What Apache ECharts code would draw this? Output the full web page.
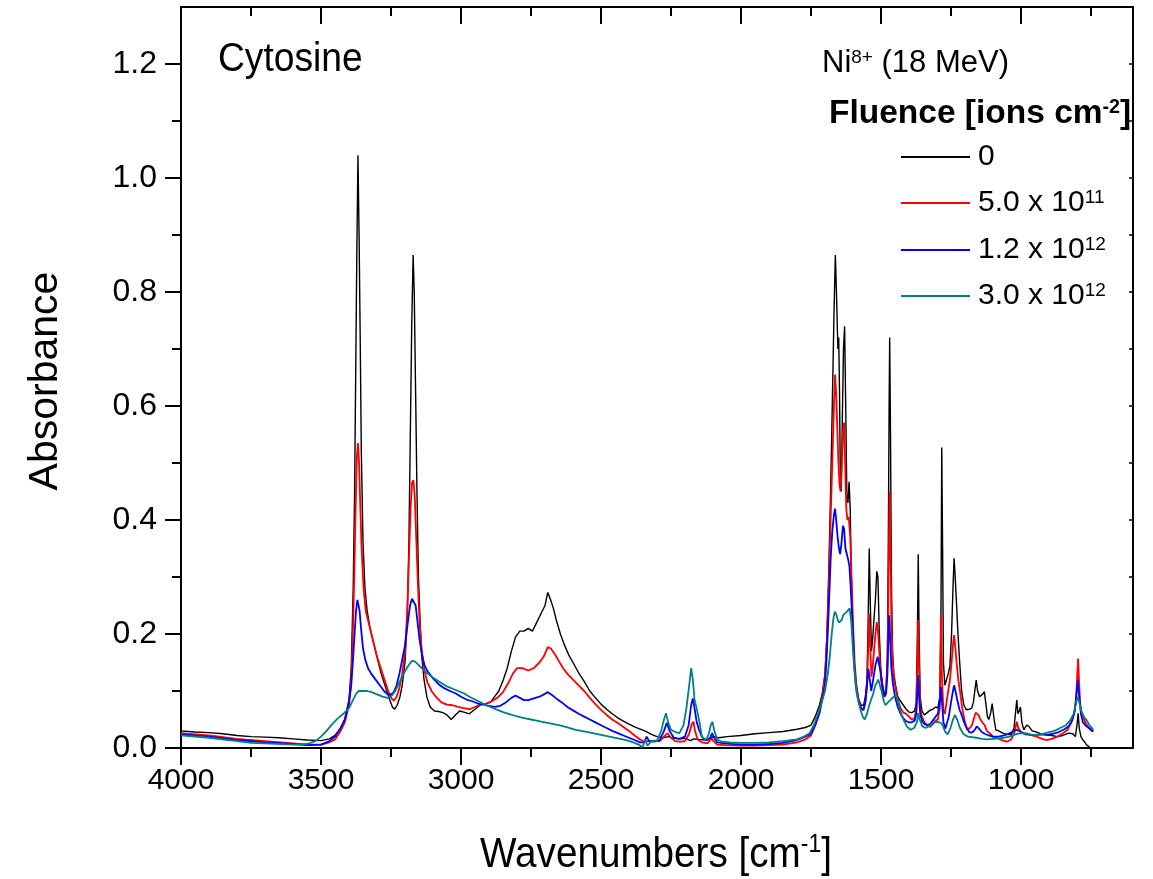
<!DOCTYPE html>
<html>
<head>
<meta charset="utf-8">
<title>Cytosine – IR absorbance under Ni8+ irradiation</title>
<script src="https://cdn.jsdelivr.net/npm/echarts@6.0.0/dist/echarts.min.js"></script>
<style>
  html, body { margin: 0; padding: 0; background: #ffffff; }
  #chart { width: 1153px; height: 879px; }
</style>
</head>
<body>
<div id="chart"></div>
<script>
// ---- Spectra: [wavenumber (cm-1), absorbance] ----
const fluence0 = [
  [4000,0.030],[3950,0.028],[3900,0.027],[3850,0.025],[3800,0.022],[3750,0.020],[3700,0.019],[3650,0.018],
  [3600,0.016],[3550,0.014],[3500,0.013],[3470,0.016],[3450,0.022],[3430,0.035],[3415,0.050],[3400,0.085],
  [3392,0.14],[3385,0.28],[3380,0.45],[3376,0.66],[3372,0.87],[3368,1.04],[3364,0.90],[3360,0.72],
  [3356,0.52],[3350,0.36],[3343,0.28],[3335,0.24],[3325,0.21],[3315,0.19],[3305,0.17],[3295,0.15],
  [3285,0.13],[3275,0.115],[3265,0.10],[3255,0.085],[3245,0.072],[3237,0.068],[3228,0.075],[3218,0.09],
  [3210,0.11],[3200,0.15],[3192,0.23],[3186,0.36],[3181,0.55],[3176,0.74],[3171,0.865],[3167,0.80],
  [3162,0.62],[3157,0.44],[3152,0.30],[3146,0.22],[3140,0.16],[3132,0.12],[3122,0.09],[3110,0.072],
  [3095,0.065],[3080,0.064],[3065,0.062],[3050,0.058],[3035,0.050],[3020,0.058],[3005,0.065],[2990,0.063],
  [2970,0.060],[2950,0.068],[2930,0.076],[2910,0.078],[2895,0.080],[2880,0.090],[2865,0.10],[2850,0.118],
  [2835,0.14],[2820,0.17],[2805,0.195],[2790,0.205],[2775,0.205],[2760,0.21],[2745,0.205],[2730,0.22],
  [2715,0.235],[2700,0.25],[2690,0.273],[2680,0.26],[2670,0.245],[2660,0.225],[2645,0.20],[2630,0.18],
  [2615,0.163],[2600,0.15],[2580,0.132],[2560,0.117],[2540,0.10],[2520,0.088],[2500,0.077],[2480,0.068],
  [2460,0.060],[2440,0.053],[2420,0.047],[2400,0.042],[2380,0.037],[2360,0.033],[2340,0.029],[2320,0.024],
  [2300,0.020],[2280,0.018],[2260,0.020],[2240,0.017],[2220,0.016],[2200,0.017],[2180,0.013],[2170,0.016],
  [2150,0.015],[2120,0.014],[2100,0.020],[2080,0.018],[2050,0.020],[2000,0.022],[1950,0.025],[1900,0.027],
  [1850,0.029],[1800,0.033],[1770,0.036],[1750,0.040],[1735,0.055],[1720,0.075],[1710,0.095],[1700,0.13],
  [1693,0.20],[1686,0.32],[1680,0.45],[1674,0.60],[1668,0.76],[1663,0.865],[1658,0.78],[1654,0.70],
  [1651,0.72],[1648,0.62],[1645,0.46],[1642,0.45],[1638,0.58],[1634,0.70],[1630,0.74],[1626,0.60],
  [1622,0.44],[1618,0.43],[1614,0.467],[1610,0.42],[1606,0.30],[1600,0.20],[1595,0.14],[1588,0.11],
  [1580,0.085],[1570,0.075],[1562,0.075],[1556,0.09],[1550,0.12],[1546,0.22],[1542,0.35],[1538,0.25],
  [1534,0.17],[1530,0.19],[1526,0.22],[1520,0.26],[1515,0.31],[1511,0.30],[1506,0.20],[1500,0.13],
  [1494,0.11],[1488,0.095],[1482,0.10],[1477,0.16],[1474,0.35],[1471,0.60],[1469,0.72],[1466,0.55],
  [1463,0.30],[1459,0.17],[1454,0.13],[1448,0.11],[1440,0.09],[1430,0.082],[1420,0.075],[1410,0.068],
  [1400,0.063],[1390,0.062],[1380,0.065],[1374,0.08],[1370,0.20],[1367,0.34],[1364,0.20],[1360,0.09],
  [1354,0.065],[1345,0.058],[1335,0.062],[1325,0.066],[1315,0.068],[1305,0.072],[1297,0.070],[1290,0.09],
  [1286,0.22],[1283,0.527],[1280,0.35],[1277,0.15],[1272,0.11],[1266,0.12],[1260,0.13],[1254,0.143],
  [1248,0.20],[1243,0.28],[1239,0.333],[1235,0.30],[1230,0.25],[1225,0.20],[1219,0.15],[1212,0.10],
  [1204,0.075],[1195,0.067],[1185,0.068],[1176,0.070],[1170,0.08],[1165,0.10],[1160,0.119],[1155,0.10],
  [1148,0.09],[1142,0.088],[1136,0.095],[1131,0.099],[1126,0.08],[1120,0.055],[1115,0.050],[1108,0.062],
  [1103,0.078],[1100,0.081],[1096,0.050],[1090,0.032],[1080,0.030],[1065,0.026],[1050,0.024],[1035,0.023],
  [1025,0.035],[1018,0.07],[1015,0.084],[1011,0.06],[1006,0.065],[1002,0.072],[997,0.045],[990,0.032],
  [980,0.040],[972,0.038],[960,0.030],[945,0.028],[930,0.025],[910,0.023],[890,0.022],[870,0.020],
  [850,0.022],[830,0.026],[815,0.025],[806,0.020],[800,0.040],[796,0.061],[792,0.035],[786,0.020],
  [780,0.015],[772,0.010],[765,0.005],[758,0.004],[751,0.000]
];

const fluence5e11 = [
  [4000,0.026],[3900,0.022],[3800,0.016],[3700,0.012],[3600,0.008],[3550,0.006],[3500,0.006],[3470,0.010],
  [3450,0.015],[3430,0.030],[3415,0.045],[3400,0.075],[3392,0.12],[3385,0.22],[3380,0.33],[3376,0.43],
  [3372,0.51],[3368,0.535],[3364,0.50],[3360,0.43],[3355,0.35],[3348,0.28],[3340,0.24],[3330,0.22],
  [3320,0.20],[3310,0.18],[3300,0.16],[3290,0.145],[3280,0.13],[3270,0.115],[3260,0.10],[3250,0.088],
  [3240,0.083],[3230,0.09],[3220,0.105],[3210,0.13],[3200,0.17],[3192,0.24],[3186,0.33],[3180,0.42],
  [3175,0.465],[3170,0.47],[3165,0.44],[3160,0.37],[3154,0.29],[3148,0.22],[3140,0.17],[3130,0.135],
  [3120,0.115],[3105,0.10],[3090,0.09],[3070,0.08],[3050,0.076],[3030,0.075],[3010,0.072],[2990,0.070],
  [2970,0.068],[2950,0.072],[2930,0.076],[2910,0.078],[2890,0.082],[2870,0.088],[2850,0.098],[2830,0.115],
  [2815,0.13],[2800,0.14],[2780,0.14],[2760,0.136],[2740,0.14],[2720,0.15],[2705,0.16],[2690,0.177],
  [2680,0.175],[2665,0.165],[2650,0.152],[2635,0.14],[2620,0.13],[2600,0.12],[2580,0.11],[2560,0.10],
  [2540,0.088],[2520,0.077],[2500,0.067],[2480,0.058],[2460,0.050],[2440,0.044],[2420,0.037],[2400,0.030],
  [2380,0.022],[2360,0.015],[2345,0.011],[2330,0.012],[2310,0.013],[2290,0.012],[2275,0.020],[2262,0.026],
  [2250,0.018],[2235,0.012],[2220,0.011],[2200,0.012],[2185,0.025],[2176,0.042],[2170,0.046],[2164,0.030],
  [2155,0.015],[2140,0.010],[2120,0.008],[2105,0.017],[2098,0.012],[2085,0.006],[2060,0.005],[2000,0.004],
  [1950,0.004],[1900,0.005],[1850,0.006],[1800,0.010],[1770,0.015],[1750,0.022],[1735,0.040],[1720,0.065],
  [1710,0.09],[1700,0.125],[1693,0.19],[1686,0.29],[1680,0.40],[1674,0.50],[1668,0.60],[1664,0.655],
  [1660,0.62],[1656,0.56],[1652,0.50],[1648,0.46],[1644,0.45],[1640,0.50],[1636,0.55],[1632,0.571],
  [1628,0.50],[1624,0.42],[1620,0.40],[1615,0.405],[1610,0.37],[1605,0.30],[1600,0.22],[1594,0.15],
  [1588,0.11],[1580,0.085],[1570,0.070],[1562,0.068],[1556,0.08],[1550,0.11],[1546,0.17],[1543,0.236],
  [1539,0.18],[1534,0.125],[1530,0.14],[1525,0.17],[1520,0.20],[1515,0.221],[1510,0.20],[1505,0.16],
  [1500,0.12],[1494,0.10],[1488,0.09],[1482,0.10],[1477,0.15],[1474,0.25],[1471,0.38],[1469,0.45],
  [1466,0.35],[1463,0.22],[1459,0.16],[1454,0.12],[1448,0.105],[1440,0.085],[1430,0.070],[1420,0.062],
  [1410,0.060],[1400,0.055],[1390,0.050],[1380,0.052],[1374,0.07],[1370,0.15],[1367,0.225],[1364,0.14],
  [1360,0.07],[1354,0.055],[1345,0.045],[1335,0.040],[1325,0.037],[1315,0.042],[1305,0.048],[1297,0.050],
  [1290,0.07],[1286,0.233],[1282,0.12],[1277,0.065],[1272,0.06],[1266,0.08],[1260,0.10],[1254,0.119],
  [1248,0.15],[1243,0.18],[1239,0.198],[1235,0.18],[1230,0.15],[1224,0.12],[1218,0.10],[1210,0.07],
  [1200,0.045],[1192,0.032],[1183,0.035],[1175,0.040],[1168,0.052],[1162,0.062],[1158,0.064],[1152,0.058],
  [1145,0.050],[1138,0.045],[1130,0.040],[1122,0.030],[1110,0.025],[1100,0.020],[1087,0.018],[1070,0.014],
  [1051,0.011],[1035,0.015],[1025,0.025],[1018,0.040],[1015,0.046],[1010,0.035],[1000,0.028],[990,0.026],
  [975,0.025],[960,0.022],[944,0.020],[925,0.016],[908,0.014],[890,0.016],[870,0.020],[850,0.026],
  [834,0.032],[820,0.045],[810,0.060],[803,0.085],[799,0.13],[796,0.157],[793,0.12],[789,0.08],
  [783,0.060],[775,0.050],[765,0.040],[755,0.035],[748,0.030],[742,0.029]
];

const fluence1_2e12 = [
  [4000,0.024],[3900,0.020],[3800,0.014],[3700,0.010],[3600,0.007],[3550,0.005],[3500,0.006],[3470,0.012],
  [3450,0.020],[3430,0.035],[3415,0.050],[3400,0.080],[3392,0.11],[3385,0.16],[3380,0.20],[3375,0.24],
  [3370,0.26],[3366,0.262],[3362,0.24],[3357,0.21],[3350,0.175],[3342,0.155],[3332,0.14],[3320,0.13],
  [3305,0.12],[3290,0.11],[3275,0.10],[3262,0.094],[3250,0.094],[3240,0.098],[3230,0.11],[3220,0.13],
  [3210,0.155],[3200,0.18],[3190,0.22],[3182,0.25],[3175,0.262],[3168,0.265],[3162,0.25],[3155,0.22],
  [3148,0.19],[3140,0.165],[3130,0.145],[3120,0.135],[3100,0.122],[3080,0.112],[3060,0.105],[3040,0.100],
  [3020,0.096],[3000,0.090],[2980,0.085],[2960,0.082],[2940,0.078],[2920,0.076],[2900,0.074],[2880,0.072],
  [2860,0.074],[2840,0.080],[2820,0.088],[2805,0.092],[2790,0.088],[2775,0.084],[2760,0.084],[2740,0.087],
  [2720,0.090],[2700,0.095],[2690,0.098],[2675,0.093],[2660,0.087],[2640,0.080],[2620,0.072],[2600,0.066],
  [2580,0.060],[2560,0.055],[2540,0.050],[2520,0.045],[2500,0.040],[2480,0.035],[2460,0.030],[2440,0.026],
  [2420,0.022],[2400,0.018],[2380,0.014],[2360,0.010],[2345,0.010],[2337,0.020],[2328,0.012],[2310,0.011],
  [2290,0.014],[2275,0.030],[2265,0.044],[2255,0.030],[2240,0.018],[2220,0.016],[2200,0.020],[2187,0.040],
  [2178,0.075],[2172,0.087],[2166,0.070],[2158,0.045],[2150,0.032],[2140,0.020],[2125,0.013],[2110,0.018],
  [2103,0.026],[2096,0.018],[2085,0.010],[2060,0.008],[2000,0.006],[1950,0.006],[1900,0.007],[1850,0.009],
  [1800,0.014],[1770,0.020],[1750,0.025],[1735,0.040],[1720,0.060],[1710,0.085],[1700,0.11],[1693,0.17],
  [1686,0.25],[1680,0.33],[1674,0.38],[1668,0.41],[1664,0.42],[1660,0.40],[1655,0.37],[1650,0.35],
  [1646,0.34],[1641,0.36],[1636,0.39],[1632,0.385],[1627,0.35],[1622,0.34],[1617,0.33],[1613,0.32],
  [1608,0.28],[1602,0.22],[1596,0.15],[1590,0.11],[1582,0.085],[1572,0.070],[1563,0.066],[1556,0.08],
  [1550,0.11],[1545,0.139],[1540,0.12],[1535,0.10],[1528,0.12],[1520,0.145],[1512,0.16],[1506,0.162],
  [1500,0.13],[1494,0.105],[1488,0.09],[1482,0.095],[1477,0.13],[1474,0.19],[1471,0.233],[1467,0.19],
  [1463,0.14],[1458,0.115],[1450,0.09],[1440,0.072],[1430,0.060],[1420,0.052],[1410,0.047],[1400,0.045],
  [1390,0.045],[1380,0.048],[1374,0.06],[1370,0.10],[1367,0.128],[1364,0.09],[1360,0.06],[1354,0.048],
  [1345,0.042],[1335,0.040],[1325,0.042],[1315,0.048],[1305,0.055],[1297,0.060],[1290,0.08],[1286,0.107],
  [1282,0.08],[1277,0.045],[1270,0.034],[1264,0.035],[1258,0.055],[1250,0.08],[1243,0.10],[1239,0.11],
  [1234,0.10],[1228,0.085],[1220,0.068],[1212,0.058],[1203,0.045],[1194,0.035],[1185,0.028],[1175,0.027],
  [1165,0.032],[1158,0.038],[1150,0.034],[1140,0.028],[1130,0.025],[1115,0.022],[1100,0.020],[1080,0.020],
  [1060,0.022],[1040,0.026],[1025,0.030],[1015,0.032],[1000,0.028],[985,0.024],[965,0.023],[945,0.023],
  [925,0.024],[905,0.023],[885,0.025],[865,0.028],[845,0.033],[830,0.038],[818,0.048],[808,0.065],
  [802,0.095],[797,0.119],[792,0.09],[786,0.06],[779,0.045],[770,0.040],[760,0.036],[750,0.032],[742,0.029]
];

const fluence3e12 = [
  [4000,0.022],[3900,0.018],[3800,0.012],[3750,0.009],[3700,0.008],[3600,0.006],[3550,0.007],[3520,0.012],
  [3500,0.020],[3480,0.030],[3460,0.042],[3440,0.052],[3420,0.060],[3400,0.070],[3385,0.085],[3375,0.095],
  [3365,0.100],[3350,0.100],[3335,0.100],[3320,0.098],[3300,0.094],[3280,0.090],[3262,0.088],[3250,0.090],
  [3235,0.100],[3220,0.115],[3205,0.130],[3190,0.143],[3175,0.153],[3165,0.152],[3150,0.145],[3130,0.135],
  [3110,0.127],[3090,0.120],[3070,0.114],[3050,0.108],[3030,0.104],[3010,0.100],[2990,0.096],[2970,0.090],
  [2950,0.085],[2930,0.080],[2910,0.075],[2890,0.071],[2870,0.067],[2850,0.063],[2830,0.060],[2810,0.057],
  [2790,0.054],[2770,0.052],[2750,0.050],[2730,0.048],[2710,0.046],[2690,0.044],[2670,0.042],[2650,0.040],
  [2620,0.036],[2590,0.032],[2560,0.029],[2530,0.026],[2500,0.023],[2470,0.020],[2440,0.017],[2410,0.014],
  [2385,0.010],[2365,0.006],[2352,0.001],[2342,0.015],[2334,0.004],[2320,0.012],[2300,0.013],[2285,0.030],
  [2275,0.050],[2268,0.061],[2260,0.045],[2250,0.032],[2235,0.028],[2220,0.026],[2205,0.040],[2195,0.070],
  [2185,0.110],[2178,0.140],[2172,0.120],[2166,0.085],[2160,0.073],[2155,0.076],[2150,0.050],[2140,0.020],
  [2125,0.014],[2115,0.025],[2108,0.040],[2102,0.046],[2095,0.030],[2085,0.015],[2070,0.011],[2040,0.010],
  [2000,0.009],[1950,0.009],[1900,0.010],[1850,0.012],[1800,0.015],[1775,0.020],[1755,0.026],[1740,0.040],
  [1725,0.060],[1712,0.080],[1700,0.100],[1690,0.130],[1683,0.160],[1676,0.200],[1670,0.227],[1665,0.239],
  [1660,0.235],[1655,0.225],[1650,0.220],[1645,0.218],[1640,0.225],[1635,0.233],[1628,0.235],[1620,0.240],
  [1612,0.245],[1606,0.220],[1600,0.170],[1594,0.130],[1588,0.100],[1580,0.080],[1572,0.065],[1565,0.055],
  [1558,0.050],[1550,0.060],[1542,0.075],[1535,0.085],[1528,0.095],[1520,0.110],[1510,0.120],[1504,0.121],
  [1498,0.100],[1490,0.082],[1484,0.075],[1475,0.080],[1465,0.085],[1455,0.090],[1445,0.091],[1438,0.080],
  [1428,0.060],[1418,0.048],[1408,0.038],[1395,0.032],[1382,0.035],[1372,0.045],[1367,0.061],[1362,0.050],
  [1352,0.038],[1340,0.035],[1325,0.040],[1310,0.045],[1300,0.046],[1290,0.045],[1282,0.042],[1270,0.028],
  [1262,0.024],[1252,0.035],[1243,0.050],[1236,0.058],[1228,0.050],[1218,0.035],[1205,0.024],[1190,0.020],
  [1175,0.019],[1160,0.018],[1140,0.016],[1120,0.015],[1100,0.016],[1080,0.017],[1060,0.018],[1040,0.020],
  [1020,0.024],[1000,0.026],[980,0.025],[960,0.023],[940,0.023],[920,0.025],[900,0.028],[880,0.030],
  [860,0.035],[840,0.040],[825,0.048],[812,0.060],[803,0.080],[797,0.090],[792,0.080],[785,0.065],
  [775,0.055],[765,0.048],[755,0.040],[745,0.034],[742,0.032]
];

// ---- Series names, legend labels, colours ----
const seriesNames = ['0', '5.0e11', '1.2e12', '3.0e12'];
const legendLabels = ['0', '5.0 x 10{s|11}', '1.2 x 10{s|12}', '3.0 x 10{s|12}'];
const seriesColors = ['#000000', '#ff0000', '#0000ff', '#008080'];
const seriesData = [fluence0, fluence5e11, fluence1_2e12, fluence3e12];

// ---- Axis ticks ----
const xMajorTicks = [1000, 1500, 2000, 2500, 3000, 3500, 4000];
const xMinorTicks = [750, 1250, 1750, 2250, 2750, 3250, 3750];
const yMajorTicks = [0, 0.2, 0.4, 0.6, 0.8, 1.0, 1.2];
const yMinorTicks = [0.1, 0.3, 0.5, 0.7, 0.9, 1.1];
const yRightTicks = [0.1, 0.2, 0.3, 0.4, 0.5, 0.6, 0.7, 0.8, 0.9, 1.0, 1.1, 1.2];

const X_MIN = 600, X_MAX = 4000, Y_MIN = 0, Y_MAX = 1.3;
const FONT = '"Liberation Sans", Arial, Helvetica, sans-serif';
const AXIS_COLOR = '#000000';

const chart = echarts.init(document.getElementById('chart'), null, { renderer: 'canvas' });

function xAxisDef(position, ticks, len, inside, showLine, showLabel) {
  return {
    type: 'value', position: position, inverse: true, min: X_MIN, max: X_MAX,
    axisLine: { show: showLine, onZero: false, lineStyle: { color: AXIS_COLOR, width: 2 } },
    axisTick: { show: true, inside: inside, length: len, customValues: ticks,
                lineStyle: { color: AXIS_COLOR, width: 2 } },
    axisLabel: showLabel ? { show: true, customValues: ticks, margin: 18, color: '#000',
                fontFamily: FONT, fontSize: 30, formatter: v => String(Math.round(v)) } : { show: false },
    splitLine: { show: false }
  };
}

function yAxisDef(position, ticks, len, inside, showLine, showLabel, tickWidth) {
  return {
    type: 'value', position: position, min: Y_MIN, max: Y_MAX,
    axisLine: { show: showLine, onZero: false, lineStyle: { color: AXIS_COLOR, width: 2 } },
    axisTick: { show: true, inside: inside, length: len, customValues: ticks,
                lineStyle: { color: AXIS_COLOR, width: tickWidth } },
    axisLabel: showLabel ? { show: true, customValues: ticks, margin: 24, color: '#000',
                fontFamily: FONT, fontSize: 32, formatter: v => v.toFixed(1) } : { show: false },
    splitLine: { show: false }
  };
}

const legendTops = [142, 188, 235, 281];

const option = {
  backgroundColor: '#ffffff',
  animation: false,
  grid: { left: 181, right: 20, top: 7, bottom: 131 },
  xAxis: [
    xAxisDef('bottom', xMajorTicks, 17, false, true, true),
    xAxisDef('bottom', xMinorTicks, 9, false, false, false),
    xAxisDef('top', xMajorTicks, 17, true, true, false),
    xAxisDef('top', xMinorTicks, 9, true, false, false)
  ],
  yAxis: [
    yAxisDef('left', yMajorTicks, 16, false, true, true, 2),
    yAxisDef('left', yMinorTicks, 9, false, false, false, 2),
    yAxisDef('right', yRightTicks, 4, true, true, false, 1.5)
  ],
  legend: seriesNames.map((name, i) => ({
    data: [name],
    left: 901, top: legendTops[i],
    orient: 'vertical', padding: 0, itemGap: 0,
    icon: 'rect', itemWidth: 69, itemHeight: 2,
    selectedMode: false,
    formatter: () => legendLabels[i],
    textStyle: {
      color: '#000', fontFamily: FONT, fontSize: 30, lineHeight: 30, padding: [0, 0, 0, 3],
      rich: { s: { fontFamily: FONT, fontSize: 19, lineHeight: 10, verticalAlign: 'top', color: '#000' } }
    }
  })),
  graphic: [
    {
      type: 'text', x: 218, y: 60, scaleX: 0.93, silent: true,
      style: { text: 'Cytosine', fill: '#000', font: '40px ' + FONT, align: 'left', verticalAlign: 'middle' }
    },
    {
      type: 'text', x: 822, y: 48, silent: true,
      style: {
        text: '{a|Ni}{s|8+}{a| (18 MeV)}', align: 'left', verticalAlign: 'top', fill: '#000',
        rich: {
          a: { fontFamily: FONT, fontSize: 31, lineHeight: 30, fill: '#000' },
          s: { fontFamily: FONT, fontSize: 19, lineHeight: 10, verticalAlign: 'top', fill: '#000' }
        }
      }
    },
    {
      type: 'text', x: 829, y: 97, scaleX: 0.985, silent: true,
      style: {
        text: '{a|Fluence [ions cm}{s|-2}{a|]}', align: 'left', verticalAlign: 'top', fill: '#000',
        rich: {
          a: { fontFamily: FONT, fontSize: 34, fontWeight: 'bold', lineHeight: 34, fill: '#000' },
          s: { fontFamily: FONT, fontSize: 20, fontWeight: 'bold', lineHeight: 14, verticalAlign: 'top', fill: '#000' }
        }
      }
    },
    {
      type: 'text', x: 656, y: 833, scaleX: 0.92, silent: true,
      style: {
        text: '{a|Wavenumbers [cm}{s|-1}{a|]}', align: 'center', verticalAlign: 'top', fill: '#000',
        rich: {
          a: { fontFamily: FONT, fontSize: 42, lineHeight: 44, fill: '#000' },
          s: { fontFamily: FONT, fontSize: 25, lineHeight: 22, verticalAlign: 'top', fill: '#000' }
        }
      }
    },
    {
      type: 'text', x: 46, y: 381, rotation: Math.PI / 2, silent: true,
      style: { text: 'Absorbance', fill: '#000', font: '41px ' + FONT, align: 'center', verticalAlign: 'middle' }
    }
  ],
  series: seriesNames.map((name, i) => ({
    name: name,
    type: 'line',
    xAxisIndex: 0, yAxisIndex: 0,
    data: seriesData[i],
    color: seriesColors[i],
    showSymbol: false, symbol: 'none',
    silent: true,
    lineStyle: { color: seriesColors[i], width: i === 0 ? 1.4 : 1.8 },
    z: 2 + i
  }))
};

chart.setOption(option);
</script>
</body>
</html>
